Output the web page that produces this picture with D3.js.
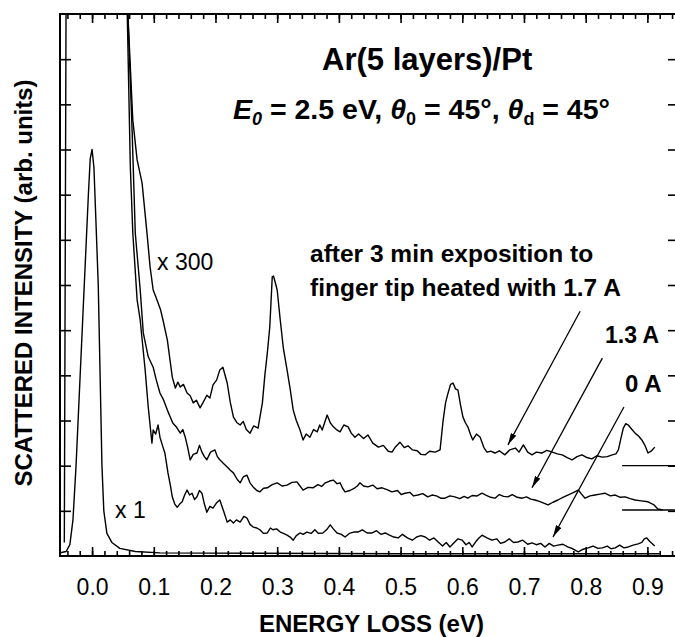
<!doctype html>
<html lang="en">
<head>
  <meta charset="utf-8">
  <title>Ar(5 layers)/Pt - energy loss spectra</title>
  <script src="https://cdnjs.cloudflare.com/ajax/libs/d3/7.8.5/d3.min.js"></script>
  <style>
    body { margin: 0; background: #fff; }
    text { font-family: "Liberation Sans", Arial, sans-serif; fill: #000; }
  </style>
</head>
<body>
<svg width="675" height="637" id="svg"></svg>

<script type="text/javascript">

	// x1 curve: elastic peak (energy loss in eV, intensity in axis units)
	var elastic = [
		[-0.052,0.07],[-0.042,0.1],[-0.036,0.25],[-0.031,0.8],[-0.026,2.0],[-0.021,3.5],
		[-0.016,5.0],[-0.011,6.5],[-0.006,8.0],[-0.003,8.8],[0.0,9.0],[0.003,8.6],
		[0.006,7.5],[0.010,6.0],[0.013,4.0],[0.016,2.0],[0.019,1.0],[0.024,0.5],
		[0.032,0.3],[0.045,0.17],[0.07,0.1],[0.11,0.07],[0.5,0.05],[0.92,0.05]
	];

	// x300 curve, after exposition with 1.7 A
	var curve17 = [
		[-0.045,0.3],[-0.042,13],[0.056,13],[0.058,12],[0.066,9.65],[0.073,8.77],[0.081,8.26],
		[0.089,7.15],[0.094,6.40],[0.099,5.89],[0.103,5.75],[0.107,5.60],[0.111,5.45],
		[0.115,5.22],[0.122,4.78],[0.130,3.96],[0.135,3.72],[0.139,3.85],[0.143,3.74],
		[0.148,3.80],[0.154,3.61],[0.159,3.55],[0.164,3.39],[0.169,3.45],[0.175,3.28],
		[0.180,3.40],[0.186,3.56],[0.191,3.50],[0.196,3.79],[0.202,3.90],[0.207,4.12],
		[0.212,4.18],[0.219,3.83],[0.224,3.40],[0.229,3.08],[0.235,2.95],[0.240,2.90],
		[0.245,2.98],[0.250,2.80],[0.256,2.72],[0.262,2.88],[0.269,2.83],[0.276,3.39],
		[0.280,4.00],[0.284,4.49],[0.288,5.07],[0.292,6.18],[0.294,6.20],[0.297,6.05],
		[0.300,5.89],[0.305,5.22],[0.310,4.60],[0.316,4.12],[0.321,3.70],[0.326,3.23],
		[0.331,3.00],[0.337,2.79],[0.342,2.57],[0.347,2.70],[0.353,2.63],[0.359,2.80],
		[0.365,2.75],[0.369,2.90],[0.373,2.79],[0.381,3.12],[0.386,2.95],[0.391,2.86],
		[0.396,2.80],[0.402,2.75],[0.408,2.90],[0.415,2.86],[0.420,2.72],[0.426,2.63],
		[0.432,2.70],[0.440,2.60],[0.447,2.68],[0.455,2.50],[0.464,2.41],[0.472,2.45],
		[0.480,2.32],[0.486,2.30],[0.492,2.42],[0.499,2.52],[0.506,2.40],[0.512,2.44],
		[0.519,2.35],[0.527,2.33],[0.533,2.25],[0.540,2.24],[0.547,2.32],[0.556,2.30],
		[0.564,2.35],[0.569,3.01],[0.573,3.40],[0.577,3.61],[0.581,3.80],[0.585,3.83],
		[0.589,3.70],[0.593,3.67],[0.597,3.35],[0.601,3.08],[0.605,2.95],[0.609,2.86],
		[0.613,2.70],[0.617,2.57],[0.623,2.70],[0.629,2.63],[0.635,2.40],[0.640,2.30],
		[0.646,2.32],[0.653,2.28],[0.660,2.33],[0.669,2.24],[0.677,2.35],[0.686,2.39],
		[0.692,2.30],[0.699,2.46],[0.706,2.30],[0.713,2.24],[0.720,2.30],[0.729,2.28],
		[0.737,2.34],[0.746,2.30],[0.754,2.26],[0.762,2.24],[0.770,2.18],[0.778,2.13],
		[0.786,2.20],[0.794,2.24],[0.802,2.18],[0.810,2.15],[0.818,2.22],[0.827,2.19],
		[0.835,2.20],[0.843,2.24],[0.849,2.26],[0.853,2.35],[0.857,2.60],[0.861,2.83],
		[0.865,2.93],[0.869,2.90],[0.875,2.80],[0.880,2.72],[0.886,2.65],[0.891,2.57],
		[0.896,2.45],[0.901,2.28],[0.906,2.32],[0.912,2.41]
	];

	// x300 curve, after exposition with 1.3 A
	var curve13 = [
		[0.056,13],[0.058,12],[0.065,9.36],[0.070,7.15],[0.078,5.89],[0.083,4.94],
		[0.091,4.41],[0.099,4.18],[0.104,3.90],[0.110,3.61],[0.116,3.45],[0.122,3.23],
		[0.126,3.10],[0.131,2.94],[0.137,2.85],[0.143,2.72],[0.147,2.80],[0.151,2.63],
		[0.155,2.40],[0.159,2.13],[0.164,2.25],[0.170,2.28],[0.174,2.45],[0.178,2.30],
		[0.182,2.20],[0.186,2.13],[0.192,2.30],[0.199,2.35],[0.203,2.20],[0.207,2.13],
		[0.213,2.05],[0.219,1.97],[0.224,1.90],[0.229,1.84],[0.235,1.70],[0.240,1.62],
		[0.245,1.75],[0.251,1.79],[0.256,1.62],[0.261,1.53],[0.267,1.45],[0.272,1.42],
		[0.278,1.50],[0.284,1.51],[0.292,1.58],[0.300,1.62],[0.308,1.55],[0.316,1.57],
		[0.324,1.63],[0.332,1.64],[0.337,1.55],[0.342,1.46],[0.350,1.52],[0.358,1.51],
		[0.366,1.58],[0.372,1.54],[0.378,1.62],[0.385,1.66],[0.391,1.68],[0.397,1.60],
		[0.402,1.62],[0.406,1.50],[0.410,1.42],[0.418,1.45],[0.426,1.51],[0.430,1.55],
		[0.434,1.62],[0.440,1.55],[0.447,1.53],[0.455,1.57],[0.462,1.49],[0.470,1.51],
		[0.478,1.47],[0.486,1.42],[0.495,1.45],[0.501,1.36],[0.507,1.39],[0.515,1.41],
		[0.521,1.33],[0.528,1.35],[0.536,1.38],[0.544,1.31],[0.551,1.35],[0.558,1.33],
		[0.565,1.28],[0.572,1.28],[0.580,1.33],[0.588,1.31],[0.596,1.27],[0.603,1.32],
		[0.609,1.28],[0.616,1.34],[0.624,1.33],[0.632,1.39],[0.639,1.34],[0.646,1.30],
		[0.653,1.28],[0.660,1.36],[0.667,1.32],[0.674,1.31],[0.681,1.36],[0.689,1.30],
		[0.697,1.28],[0.704,1.31],[0.711,1.26],[0.718,1.24],[0.725,1.21],[0.732,1.17],
		[0.739,1.13],[0.747,1.19],[0.755,1.24],[0.763,1.30],[0.771,1.35],[0.779,1.40],
		[0.788,1.46],[0.794,1.36],[0.799,1.28],[0.807,1.33],[0.815,1.35],[0.823,1.37],
		[0.831,1.39],[0.840,1.33],[0.848,1.35],[0.856,1.30],[0.864,1.31],[0.872,1.27],
		[0.880,1.24],[0.890,1.22],[0.901,1.20],[0.910,1.14],[0.917,1.04],[0.925,1.02]
	];

	// x300 curve, after exposition with 0 A
	var curve0 = [
		[0.056,13],[0.057,12],[0.062,8.61],[0.066,7.15],[0.073,5.67],[0.078,5.22],
		[0.086,4.12],[0.091,3.30],[0.097,2.50],[0.099,2.79],[0.103,2.70],[0.107,2.90],
		[0.110,2.63],[0.114,2.45],[0.118,2.28],[0.123,1.84],[0.127,1.55],[0.130,1.31],
		[0.134,1.15],[0.138,1.08],[0.142,1.15],[0.146,1.20],[0.150,1.35],[0.154,1.46],
		[0.158,1.35],[0.162,1.39],[0.166,1.25],[0.170,1.31],[0.174,1.45],[0.178,1.39],
		[0.182,1.15],[0.186,0.97],[0.191,1.10],[0.196,1.06],[0.202,1.18],[0.207,1.24],
		[0.213,1.00],[0.219,0.75],[0.224,0.80],[0.229,0.73],[0.234,0.80],[0.240,0.75],
		[0.246,0.88],[0.251,0.84],[0.256,0.70],[0.261,0.64],[0.267,0.62],[0.272,0.58],
		[0.278,0.50],[0.284,0.51],[0.289,0.62],[0.293,0.58],[0.299,0.60],[0.305,0.53],
		[0.310,0.50],[0.316,0.46],[0.321,0.42],[0.326,0.35],[0.331,0.45],[0.337,0.51],
		[0.342,0.48],[0.348,0.53],[0.355,0.50],[0.361,0.58],[0.367,0.50],[0.374,0.51],
		[0.380,0.58],[0.386,0.69],[0.391,0.60],[0.397,0.51],[0.404,0.48],[0.410,0.42],
		[0.417,0.50],[0.424,0.53],[0.431,0.53],[0.438,0.58],[0.446,0.51],[0.454,0.51],
		[0.461,0.56],[0.468,0.48],[0.475,0.51],[0.482,0.46],[0.489,0.42],[0.496,0.40],
		[0.503,0.48],[0.511,0.40],[0.519,0.35],[0.526,0.42],[0.533,0.45],[0.540,0.42],
		[0.547,0.35],[0.554,0.40],[0.561,0.31],[0.568,0.22],[0.574,0.30],[0.580,0.20],
		[0.587,0.30],[0.593,0.38],[0.600,0.35],[0.606,0.25],[0.611,0.30],[0.616,0.20],
		[0.622,0.32],[0.627,0.40],[0.632,0.46],[0.640,0.40],[0.648,0.35],[0.656,0.38],
		[0.662,0.28],[0.669,0.31],[0.676,0.38],[0.683,0.30],[0.690,0.31],[0.698,0.35],
		[0.706,0.26],[0.713,0.29],[0.720,0.25],[0.727,0.28],[0.734,0.20],[0.741,0.28],
		[0.748,0.22],[0.755,0.24],[0.763,0.26],[0.771,0.20],[0.779,0.16],[0.788,0.09],
		[0.796,0.15],[0.804,0.18],[0.812,0.22],[0.820,0.17],[0.827,0.18],[0.835,0.22],
		[0.841,0.16],[0.848,0.18],[0.855,0.24],[0.862,0.18],[0.869,0.20],[0.877,0.24],
		[0.885,0.27],[0.891,0.30],[0.895,0.38],[0.899,0.40],[0.904,0.32],[0.912,0.22]
	];

	// zero lines of the two upper x300 curves, drawn at the right end
	var zeroLevels = [2.0, 1.02];
	var zeroLineStart = 0.859;

	// arrows: [from E, from I, to E, to I]
	var arrows = [
		[0.791, 5.42, 0.674, 2.46],
		[0.827, 4.38, 0.713, 1.51],
		[0.862, 3.30, 0.747, 0.42]
	];

	var xTicks = [0.0,0.1,0.2,0.3,0.4,0.5,0.6,0.7,0.8,0.9];
	var xTickLabels = ['0.0','0.1','0.2','0.3','0.4','0.5','0.6','0.7','0.8','0.9'];
	var xMinorTicks = d3.range(-0.04, 0.95, 0.02);
	var yTicks = d3.range(1, 12, 1);

	var svg = d3.select('#svg');

	var plotLeft = 60, plotRight = 677, plotTop = 14, plotBottom = 556;

	var x = d3.scaleLinear()
		.domain([-0.052, 0.948])
		.range([plotLeft, plotRight]);

	var y = d3.scaleLinear()
		.domain([0, 12])
		.range([plotBottom, plotTop]);

	var defs = svg.append('defs');

	defs.append('clipPath')
		.attr('id', 'plotclip')
		.append('rect')
		.attr('x', plotLeft).attr('y', plotTop)
		.attr('width', plotRight - plotLeft).attr('height', plotBottom - plotTop);

	defs.append('marker')
		.attr('id', 'head')
		.attr('viewBox', '0 0 12 6')
		.attr('refX', 12).attr('refY', 3)
		.attr('markerWidth', 12).attr('markerHeight', 6)
		.attr('markerUnits', 'userSpaceOnUse')
		.attr('orient', 'auto')
		.append('path')
		.attr('d', 'M0,0 L12,3 L0,6 Z')
		.attr('fill', '#000');

	var line = d3.line()
		.x(function(d) { return x(d[0]); })
		.y(function(d) { return y(d[1]); });

	var plot = svg.append('g').attr('clip-path', 'url(#plotclip)');

	[elastic, curve17, curve13, curve0].forEach(function(c) {
		plot.append('path')
			.attr('d', line(c))
			.attr('fill', 'none')
			.attr('stroke', '#000')
			.attr('stroke-width', 1.4)
			.attr('stroke-linejoin', 'round');
	});

	plot.selectAll('line.zero')
		.data(zeroLevels)
		.enter()
		.append('line')
		.attr('class', 'zero')
		.attr('x1', x(zeroLineStart))
		.attr('x2', plotRight)
		.attr('y1', function(d) { return y(d); })
		.attr('y2', function(d) { return y(d); })
		.attr('stroke', '#000')
		.attr('stroke-width', 1.4);

	svg.selectAll('line.arrow')
		.data(arrows)
		.enter()
		.append('line')
		.attr('class', 'arrow')
		.attr('x1', function(d) { return x(d[0]); })
		.attr('y1', function(d) { return y(d[1]); })
		.attr('x2', function(d) { return x(d[2]); })
		.attr('y2', function(d) { return y(d[3]); })
		.attr('stroke', '#000')
		.attr('stroke-width', 1.3)
		.attr('marker-end', 'url(#head)');

	// axes, ticks pointing inward on all four sides
	var fmt = function(d) { return xTickLabels[xTicks.indexOf(d)]; };

	var xb = svg.append('g')
		.attr('transform', 'translate(0,' + plotBottom + ')')
		.call(d3.axisBottom(x).tickValues(xTicks).tickFormat(fmt).tickSize(-9).tickPadding(23));
	svg.append('g')
		.attr('transform', 'translate(0,' + plotBottom + ')')
		.call(d3.axisBottom(x).tickValues(xMinorTicks).tickFormat('').tickSize(-5));
	svg.append('g')
		.attr('transform', 'translate(0,' + plotTop + ')')
		.call(d3.axisTop(x).tickValues(xTicks).tickFormat('').tickSize(-9));
	svg.append('g')
		.attr('transform', 'translate(0,' + plotTop + ')')
		.call(d3.axisTop(x).tickValues(xMinorTicks).tickFormat('').tickSize(-5));
	svg.append('g')
		.attr('transform', 'translate(' + plotLeft + ',0)')
		.call(d3.axisLeft(y).tickValues(yTicks).tickFormat('').tickSize(-11));
	svg.append('g')
		.attr('transform', 'translate(' + plotRight + ',0)')
		.call(d3.axisRight(y).tickValues(yTicks).tickFormat('').tickSize(-9));

	svg.selectAll('.domain').remove();
	svg.selectAll('.tick line').attr('stroke', '#000').attr('stroke-width', 1.6);
	xb.selectAll('text')
		.attr('font-size', 23)
		.attr('font-family', '"Liberation Sans", Arial, sans-serif')
		.attr('fill', '#000');

	svg.append('rect')
		.attr('x', plotLeft).attr('y', plotTop)
		.attr('width', plotRight - plotLeft).attr('height', plotBottom - plotTop)
		.attr('fill', 'none')
		.attr('stroke', '#000')
		.attr('stroke-width', 2);

	// axis titles
	svg.append('text')
		.attr('x', (plotLeft + plotRight) / 2 + 3)
		.attr('y', 632)
		.attr('text-anchor', 'middle')
		.attr('font-size', 24)
		.attr('font-weight', 'bold')
		.text('ENERGY LOSS (eV)');

	svg.append('text')
		.attr('transform', 'translate(32,283) rotate(-90)')
		.attr('text-anchor', 'middle')
		.attr('font-size', 24)
		.attr('font-weight', 'bold')
		.text('SCATTERED INTENSITY (arb. units)');

	// annotations
	svg.append('text')
		.attr('x', 322).attr('y', 70)
		.attr('font-size', 31)
		.attr('font-weight', 'bold')
		.text('Ar(5 layers)/Pt');

	var cond = svg.append('text')
		.attr('x', 233).attr('y', 119)
		.attr('font-size', 28.5)
		.attr('font-weight', 'bold');
	cond.append('tspan').attr('font-style', 'italic').text('E');
	cond.append('tspan').attr('font-style', 'italic').attr('font-size', 18).attr('dy', 6).text('0');
	cond.append('tspan').attr('dy', -6).text(' = 2.5 eV, ');
	cond.append('tspan').attr('font-style', 'italic').text('\u03B8');
	cond.append('tspan').attr('font-size', 18).attr('dy', 6).text('0');
	cond.append('tspan').attr('dy', -6).text(' = 45\u00B0, ');
	cond.append('tspan').attr('font-style', 'italic').text('\u03B8');
	cond.append('tspan').attr('font-size', 18).attr('dy', 6).text('d');
	cond.append('tspan').attr('dy', -6).text(' = 45\u00B0');

	svg.append('text')
		.attr('x', 310).attr('y', 262)
		.attr('font-size', 24.5)
		.attr('font-weight', 'bold')
		.text('after 3 min exposition to');
	svg.append('text')
		.attr('x', 310).attr('y', 296)
		.attr('font-size', 24.5)
		.attr('font-weight', 'bold')
		.text('finger tip heated with 1.7 A');
	svg.append('text')
		.attr('x', 605).attr('y', 343)
		.attr('font-size', 23)
		.attr('font-weight', 'bold')
		.text('1.3 A');
	svg.append('text')
		.attr('x', 625).attr('y', 392)
		.attr('font-size', 24)
		.attr('font-weight', 'bold')
		.text('0 A');

	svg.append('text')
		.attr('x', 157).attr('y', 270)
		.attr('font-size', 23)
		.text('x 300');
	svg.append('text')
		.attr('x', 115).attr('y', 518)
		.attr('font-size', 23)
		.text('x 1');

</script>
</body>
</html>
